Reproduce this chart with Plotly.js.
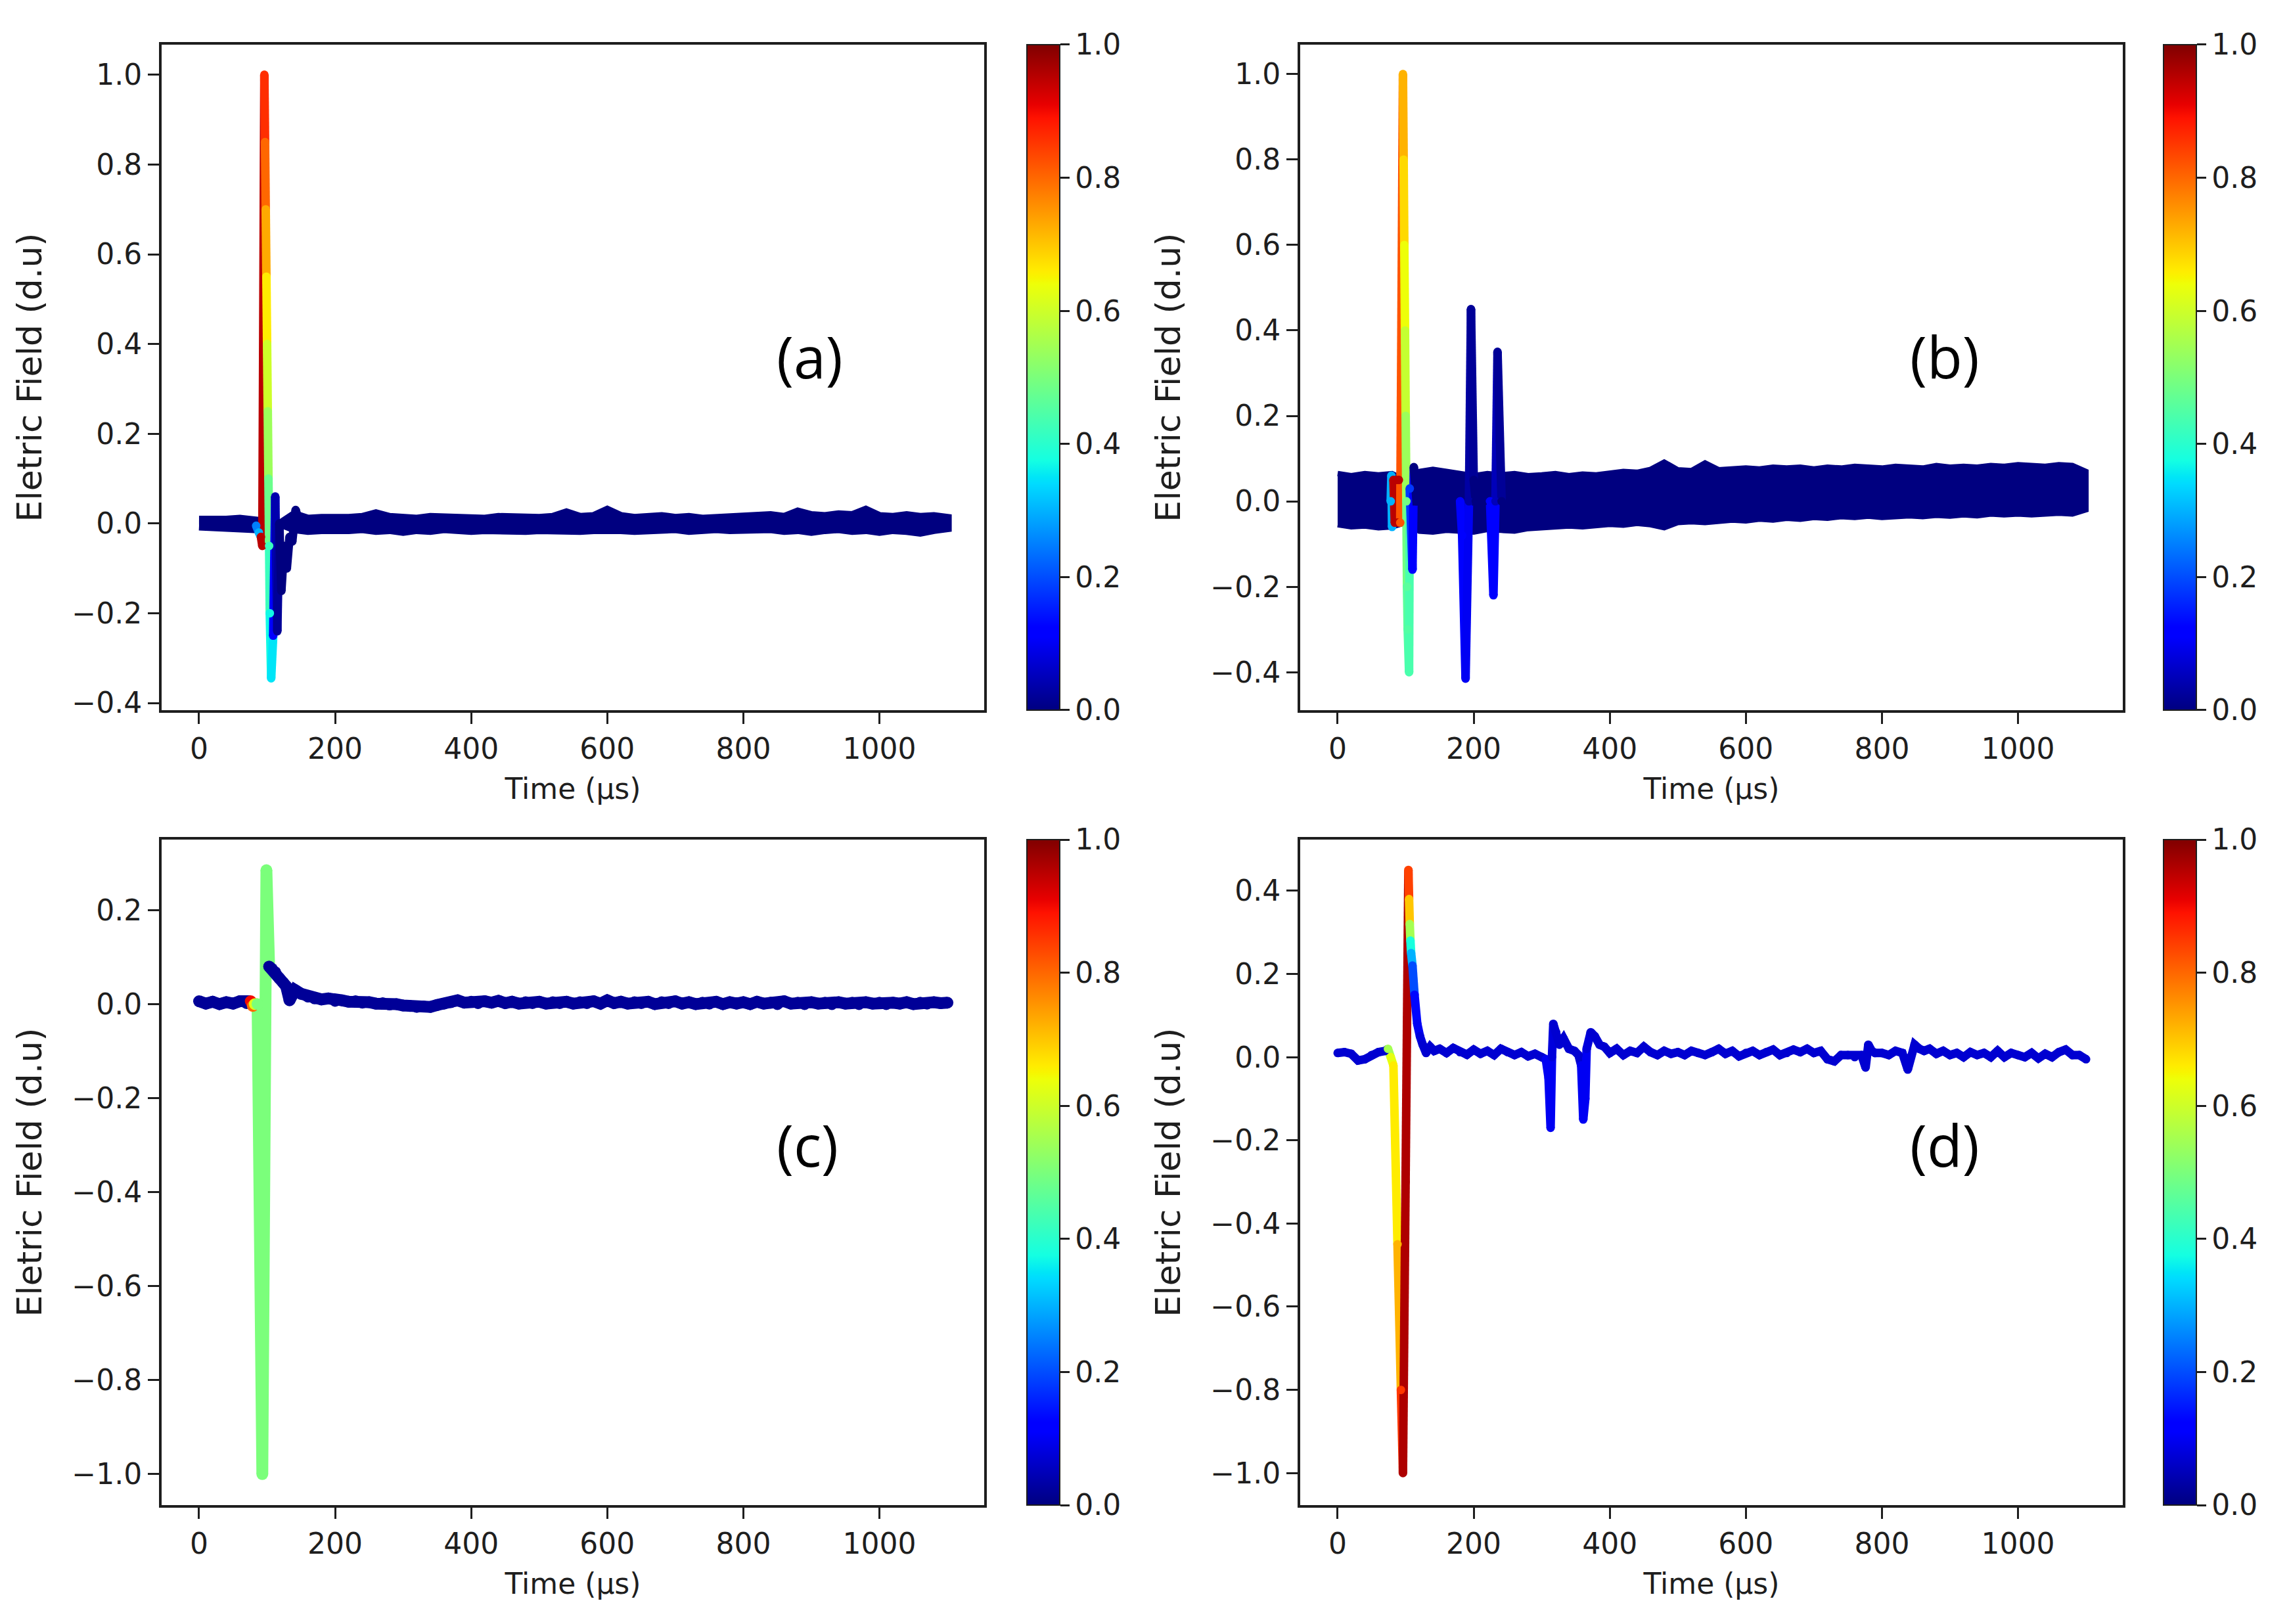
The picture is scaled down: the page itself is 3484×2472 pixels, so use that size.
<!DOCTYPE html>
<html><head><meta charset="utf-8">
<script src="https://cdn.plot.ly/plotly-3.0.1.min.js"></script>
<style>html,body{margin:0;padding:0;background:#fff}</style>
</head><body><div id="chart" style="width:3484px;height:2472px"></div>
<script>
// ---------- shared tick labels ----------
const xTickVals = [0, 200, 400, 600, 800, 1000];
const cbTickVals = [0, 0.2, 0.4, 0.6, 0.8, 1.0];
const panelLabels = ["(a)", "(b)", "(c)", "(d)"];
const xTitle = "Time (µs)";
const yTitle = "Eletric Field (d.u)";

// ---------- noise-band envelopes (a) and (b) ----------
const bandT = [0,20,40,60,80,100,120,140,160,180,200,220,240,260,280,300,320,340,360,380,400,420,440,460,480,500,520,540,560,580,600,620,640,660,680,700,720,740,760,780,800,820,840,860,880,900,920,940,960,980,1000,1020,1040,1060,1080,1100];
const aBandTop = [0.008,0.006,0.008,0.010,0.006,0.000,0.000,0.020,0.010,0.012,0.010,0.012,0.014,0.022,0.014,0.012,0.010,0.014,0.012,0.010,0.012,0.010,0.014,0.012,0.010,0.012,0.014,0.024,0.014,0.016,0.030,0.016,0.012,0.014,0.016,0.012,0.014,0.010,0.012,0.014,0.012,0.016,0.018,0.014,0.026,0.018,0.016,0.020,0.018,0.030,0.016,0.014,0.018,0.014,0.016,0.012];
const aBandBot = [-0.006,-0.010,-0.008,-0.010,-0.012,0.000,0.000,-0.012,-0.016,-0.014,-0.012,-0.014,-0.012,-0.016,-0.014,-0.018,-0.014,-0.016,-0.012,-0.014,-0.016,-0.014,-0.012,-0.014,-0.016,-0.014,-0.012,-0.014,-0.016,-0.014,-0.012,-0.014,-0.016,-0.018,-0.014,-0.012,-0.016,-0.014,-0.012,-0.014,-0.016,-0.014,-0.012,-0.016,-0.014,-0.018,-0.014,-0.012,-0.016,-0.014,-0.018,-0.014,-0.016,-0.020,-0.014,-0.010];
const bBandTop = [0.065,0.060,0.065,0.062,0.065,0.050,0.070,0.075,0.070,0.065,0.060,0.065,0.062,0.065,0.060,0.062,0.065,0.060,0.064,0.062,0.066,0.070,0.068,0.075,0.092,0.074,0.072,0.090,0.074,0.076,0.078,0.076,0.080,0.078,0.080,0.076,0.080,0.078,0.082,0.080,0.078,0.082,0.080,0.078,0.084,0.080,0.082,0.080,0.084,0.082,0.086,0.084,0.082,0.086,0.084,0.070];
const bBandBot = [-0.055,-0.060,-0.058,-0.062,-0.060,-0.050,-0.070,-0.072,-0.068,-0.070,-0.072,-0.066,-0.068,-0.070,-0.064,-0.062,-0.060,-0.058,-0.060,-0.056,-0.054,-0.056,-0.052,-0.055,-0.062,-0.050,-0.048,-0.050,-0.046,-0.044,-0.046,-0.042,-0.044,-0.040,-0.042,-0.038,-0.040,-0.036,-0.038,-0.035,-0.038,-0.036,-0.034,-0.036,-0.033,-0.035,-0.032,-0.034,-0.030,-0.032,-0.030,-0.032,-0.030,-0.028,-0.030,-0.020];

// ---------- pulse (a) ----------
const aT = [78,84,88,91,93,96,97,98,99,100,101,102,103,104,106,109,112,115,118,121,125,129,133,137,142,148,156];
const aY = [0.0,-0.005,-0.02,-0.03,-0.05,1.0,0.85,0.70,0.55,0.40,0.25,0.10,-0.05,-0.20,-0.345,-0.25,0.06,-0.24,0.0,-0.15,-0.05,-0.10,-0.03,-0.04,0.03,0.0,0.005];
const aC = [0.0,0.25,0.30,0.95,0.95,0.86,0.80,0.73,0.66,0.60,0.54,0.48,0.42,0.37,0.35,0.12,0.04,0.02,0.0,0.0,0.0,0.0,0.0,0.0,0.0,0.0,0.0];

// ---------- pulses (b) ----------
const bT = [78,79,80,82,84,86,88,90,92,96,97,98,99,100,101,102,103,105,106,110,112,116,150,180,183,188,193,196,200,203,215,224,229,232,235,238,241];
const bY = [0.0,0.06,-0.06,0.05,-0.05,0.05,-0.05,0.05,-0.05,1.0,0.80,0.60,0.40,0.20,0.0,-0.20,-0.30,-0.40,0.03,-0.16,0.08,0.0,0.0,0.0,-0.08,-0.415,0.0,0.45,0.05,0.0,0.0,0.0,-0.22,0.0,0.35,0.14,0.0];
const bC = [0.30,0.30,0.30,0.95,0.95,0.95,0.95,0.95,0.82,0.72,0.68,0.64,0.59,0.54,0.49,0.46,0.45,0.44,0.18,0.12,0.0,0.0,0.0,0.12,0.12,0.10,0.03,0.02,0.0,0.0,0.0,0.12,0.12,0.05,0.02,0.02,0.0];

// ---------- signal (c) ----------
const cT = [0,10,20,30,40,50,60,70,76,79,82,86,93,99,103,107,112,118,124,128,133,137,141,150,160,170,180,190,200,210,220,230,240,250,260,270,280,290,300,310,320,330,340,350,360,370,380,390,400,410,420,430,440,450,460,470,480,490,500,510,520,530,540,550,560,570,580,590,600,610,620,630,640,650,660,670,680,690,700,710,720,730,740,750,760,770,780,790,800,810,820,830,840,850,860,870,880,890,900,910,920,930,940,950,960,970,980,990,1000,1010,1020,1030,1040,1050,1060,1070,1080,1090,1100];
const cY = [0.006,0.001,0.005,0.0,0.004,0.001,0.006,0.002,0.006,-0.004,0.0,0.0,-1.0,0.285,0.08,0.075,0.068,0.055,0.045,0.038,0.008,0.02,0.03,0.022,0.016,0.012,0.010,0.012,0.007,0.008,0.005,0.006,0.003,0.004,0.001,0.002,-0.001,0.0,-0.003,-0.004,-0.006,-0.005,-0.006,-0.002,0.001,0.004,0.008,0.003,0.005,0.002,0.006,0.003,0.007,0.002,0.005,0.001,0.004,0.002,0.005,0.001,0.004,0.002,0.005,0.001,0.004,0.002,0.006,0.001,0.008,0.002,0.005,0.001,0.004,0.002,0.005,0.0,0.004,0.002,0.006,0.001,0.004,0.0,0.003,0.001,0.005,0.0,0.004,0.001,0.004,0.0,0.005,0.001,0.003,0.0,0.006,0.001,0.003,0.0,0.004,0.001,0.003,0.0,0.004,0.001,0.003,0.0,0.004,0.001,0.003,0.0,0.003,0.001,0.004,0.0,0.003,0.001,0.004,0.002,0.003];
const cC = [0.02,0.02,0.02,0.02,0.02,0.02,0.02,0.02,0.90,0.80,0.62,0.50,0.50,0.50,0.02,0.02,0.02,0.02,0.02,0.02,0.02,0.02,0.02,0.02,0.02,0.02,0.02,0.02,0.02,0.02,0.02,0.02,0.02,0.02,0.02,0.02,0.02,0.02,0.02,0.02,0.02,0.02,0.02,0.02,0.02,0.02,0.02,0.02,0.02,0.02,0.02,0.02,0.02,0.02,0.02,0.02,0.02,0.02,0.02,0.02,0.02,0.02,0.02,0.02,0.02,0.02,0.02,0.02,0.02,0.02,0.02,0.02,0.02,0.02,0.02,0.02,0.02,0.02,0.02,0.02,0.02,0.02,0.02,0.02,0.02,0.02,0.02,0.02,0.02,0.02,0.02,0.02,0.02,0.02,0.02,0.02,0.02,0.02,0.02,0.02,0.02,0.02,0.02,0.02,0.02,0.02,0.02,0.02,0.02,0.02,0.02,0.02,0.02,0.02,0.02,0.02,0.02,0.02,0.02];

// ---------- signal (d) ----------
const dT = [0,10,20,30,40,50,60,70,74,78,82,88,93,96,100,104,105,106,107,108,110,113,117,121,125,130,136,142,150,160,170,180,190,200,210,220,230,240,250,260,270,280,290,300,306,310,313,315,317,321,326,332,340,348,354,358,361,364,366,372,378,385,392,400,410,420,430,440,450,460,470,480,490,500,510,520,530,540,550,560,570,580,590,600,610,620,630,640,650,660,670,680,690,700,710,720,730,740,750,760,770,776,780,785,790,800,810,820,830,838,842,848,855,862,870,880,890,900,910,920,930,940,950,960,970,980,990,1000,1010,1020,1030,1040,1050,1060,1070,1080,1090,1100];
const dY = [0.010,0.012,0.008,-0.008,-0.005,0.005,0.012,0.015,0.020,0.0,-0.02,-0.45,-0.80,-1.0,-0.30,0.45,0.38,0.32,0.28,0.25,0.22,0.15,0.08,0.05,0.03,0.010,0.025,0.015,0.020,0.010,0.022,0.012,0.006,0.018,0.008,0.015,0.005,0.020,0.012,0.005,0.012,0.002,0.008,0.0,-0.005,-0.05,-0.17,0.0,0.08,0.06,0.03,0.045,0.02,0.015,0.005,-0.02,-0.15,-0.10,0.02,0.06,0.05,0.03,0.025,0.010,0.020,0.005,0.015,0.010,0.025,0.012,0.005,0.015,0.008,0.012,0.005,0.015,0.010,0.005,0.012,0.020,0.008,0.015,0.002,0.010,0.015,0.005,0.012,0.018,0.005,0.010,0.018,0.012,0.020,0.010,0.015,-0.005,-0.010,0.005,0.005,0.0,0.005,-0.025,0.030,0.015,0.010,0.010,0.005,0.015,0.010,-0.030,0.0,0.030,0.020,0.015,0.020,0.008,0.015,0.005,0.010,0.0,0.012,0.005,0.010,0.0,0.015,0.0,0.010,0.005,0.0,0.010,-0.003,0.008,0.0,0.012,0.018,0.005,0.005,-0.005];
const dC = [0.07,0.07,0.07,0.07,0.07,0.07,0.07,0.07,0.55,0.63,0.66,0.72,0.85,0.96,0.96,0.84,0.70,0.55,0.38,0.30,0.20,0.13,0.10,0.08,0.07,0.07,0.07,0.07,0.07,0.07,0.07,0.07,0.07,0.07,0.07,0.07,0.07,0.07,0.07,0.07,0.07,0.07,0.07,0.07,0.10,0.10,0.10,0.08,0.07,0.07,0.07,0.07,0.07,0.07,0.07,0.10,0.10,0.10,0.08,0.07,0.07,0.07,0.07,0.07,0.07,0.07,0.07,0.07,0.07,0.07,0.07,0.07,0.07,0.07,0.07,0.07,0.07,0.07,0.07,0.07,0.07,0.07,0.07,0.07,0.07,0.07,0.07,0.07,0.07,0.07,0.07,0.07,0.07,0.07,0.07,0.07,0.07,0.07,0.07,0.07,0.07,0.07,0.07,0.07,0.07,0.07,0.07,0.07,0.07,0.07,0.07,0.07,0.07,0.07,0.07,0.07,0.07,0.07,0.07,0.07,0.07,0.07,0.07,0.07,0.07,0.07,0.07,0.07,0.07,0.07,0.07,0.07,0.07,0.07,0.07,0.07,0.07,0.07];

// ---------- style ----------
const JET = [[0,'rgb(0,0,128)'],[0.11,'rgb(0,0,255)'],[0.125,'rgb(0,0,255)'],[0.34,'rgb(0,219,255)'],[0.35,'rgb(0,229,247)'],[0.375,'rgb(20,255,226)'],[0.64,'rgb(238,255,8)'],[0.65,'rgb(247,245,0)'],[0.66,'rgb(255,236,0)'],[0.89,'rgb(255,18,0)'],[0.91,'rgb(232,0,0)'],[1,'rgb(128,0,0)']];
function jet(v) {
  const p = JET.map(s => [s[0], s[1].match(/\d+/g).map(Number)]);
  for (let i = 1; i < p.length; i++) {
    if (v <= p[i][0]) {
      const f = (v - p[i-1][0]) / (p[i][0] - p[i-1][0] || 1);
      const a = p[i-1][1], b = p[i][1];
      return 'rgb(' + a.map((x, k) => Math.round(x + (b[k] - x) * f)).join(',') + ')';
    }
  }
  return JET[JET.length - 1][1];
}
const INK = '#1e1e1e';
const FONT = 'DejaVu Sans, sans-serif';

const traces = [];
function band(t, top, bot, xa, ya, ow) {
  traces.push({type:'scatter', mode:'lines', x:t.concat(t.slice().reverse()), y:top.concat(bot.slice().reverse()),
    fill:'toself', fillcolor:jet(0), line:{color:jet(0), width:ow}, xaxis:xa, yaxis:ya, hoverinfo:'skip', showlegend:false});
}
function coloredLine(t, y, c, xa, ya, w, cbx, cby) {
  const n = t.length;
  let s = 0;
  for (let j = 1; j <= n - 1; j++) {
    if (j === n - 1 || c[j] !== c[s]) {
      traces.push({type:'scatter', mode:'lines', x:t.slice(s, j + 1), y:y.slice(s, j + 1),
        line:{color:jet(c[s]), width:w}, xaxis:xa, yaxis:ya, hoverinfo:'skip', showlegend:false});
      s = j;
    }
  }
  traces.push({type:'scatter', mode:'markers', x:t, y:y, xaxis:xa, yaxis:ya, hoverinfo:'skip', showlegend:false,
    marker:{size:w, color:c, colorscale:JET, cmin:0, cmax:1, line:{width:0}, showscale:true,
      colorbar:{x:cbx, xanchor:'left', xref:'paper', y:cby, yanchor:'middle', yref:'paper', len:0.4098, lenmode:'fraction',
        thickness:50, thicknessmode:'pixels', xpad:0, ypad:0, outlinewidth:2, outlinecolor:INK,
        tickvals:cbTickVals, tickformat:'.1f', ticks:'outside', ticklen:14, tickwidth:3, tickcolor:INK,
        tickfont:{family:FONT, size:44, color:INK}}}});
}

band(bandT, aBandTop, aBandBot, 'x', 'y', 13);
coloredLine(aT, aY, aC, 'x', 'y', 13, 0.44862, 0.7676);
band(bandT, bBandTop, bBandBot, 'x2', 'y2', 8);
coloredLine(bT, bY, bC, 'x2', 'y2', 13, 0.94518, 0.7676);
coloredLine(cT, cY, cC, 'x3', 'y3', 18, 0.44862, 0.2781);
coloredLine(dT, dY, dC, 'x4', 'y4', 13, 0.94518, 0.2781);

function xax(dom, anchor) {
  return {domain:dom, anchor:anchor, range:[-55, 1154], tickvals:xTickVals, ticks:'outside', ticklen:17, tickwidth:3, tickcolor:INK,
    showline:true, mirror:true, linecolor:INK, linewidth:4, showgrid:false, zeroline:false,
    tickfont:{family:FONT, size:44, color:INK},
    title:{text:xTitle, font:{family:FONT, size:44, color:INK}, standoff:22}};
}
function yax(dom, anchor, rng) {
  return {domain:dom, anchor:anchor, range:rng, dtick:0.2, tick0:0, tickformat:'.1f', ticks:'outside', ticklen:17, tickwidth:3, tickcolor:INK,
    showline:true, mirror:true, linecolor:INK, linewidth:4, showgrid:false, zeroline:false,
    tickfont:{family:FONT, size:44, color:INK},
    title:{text:yTitle, font:{family:FONT, size:52, color:INK}, standoff:30}};
}
const XL = [0.07061, 0.42997], XR = [0.56803, 0.92738];
const YT = [0.5627, 0.97249], YB = [0.07322, 0.48301];
const LBL = {family:'Open Sans', size:88, color:'#000'};
const layout = {
  width:3484, height:2472, margin:{l:0, r:0, t:0, b:0}, paper_bgcolor:'#fff', plot_bgcolor:'#fff', showlegend:false,
  xaxis:xax(XL, 'y'), yaxis:yax(YT, 'x', [-0.416, 1.067]),
  xaxis2:xax(XR, 'y2'), yaxis2:yax(YT, 'x2', [-0.489, 1.069]),
  xaxis3:xax(XL, 'y3'), yaxis3:yax(YB, 'x3', [-1.066, 0.35]),
  xaxis4:xax(XR, 'y4'), yaxis4:yax(YB, 'x4', [-1.077, 0.523]),
  annotations:[
    {text:panelLabels[0], x:0.3539, y:0.8059, xref:'paper', yref:'paper', showarrow:false, font:LBL},
    {text:panelLabels[1], x:0.8654, y:0.8059, xref:'paper', yref:'paper', showarrow:false, font:LBL},
    {text:panelLabels[2], x:0.3528, y:0.2702, xref:'paper', yref:'paper', showarrow:false, font:LBL},
    {text:panelLabels[3], x:0.8654, y:0.2702, xref:'paper', yref:'paper', showarrow:false, font:LBL}
  ]
};
Plotly.newPlot('chart', traces, layout, {staticPlot:true, displayModeBar:false});
</script></body></html>
